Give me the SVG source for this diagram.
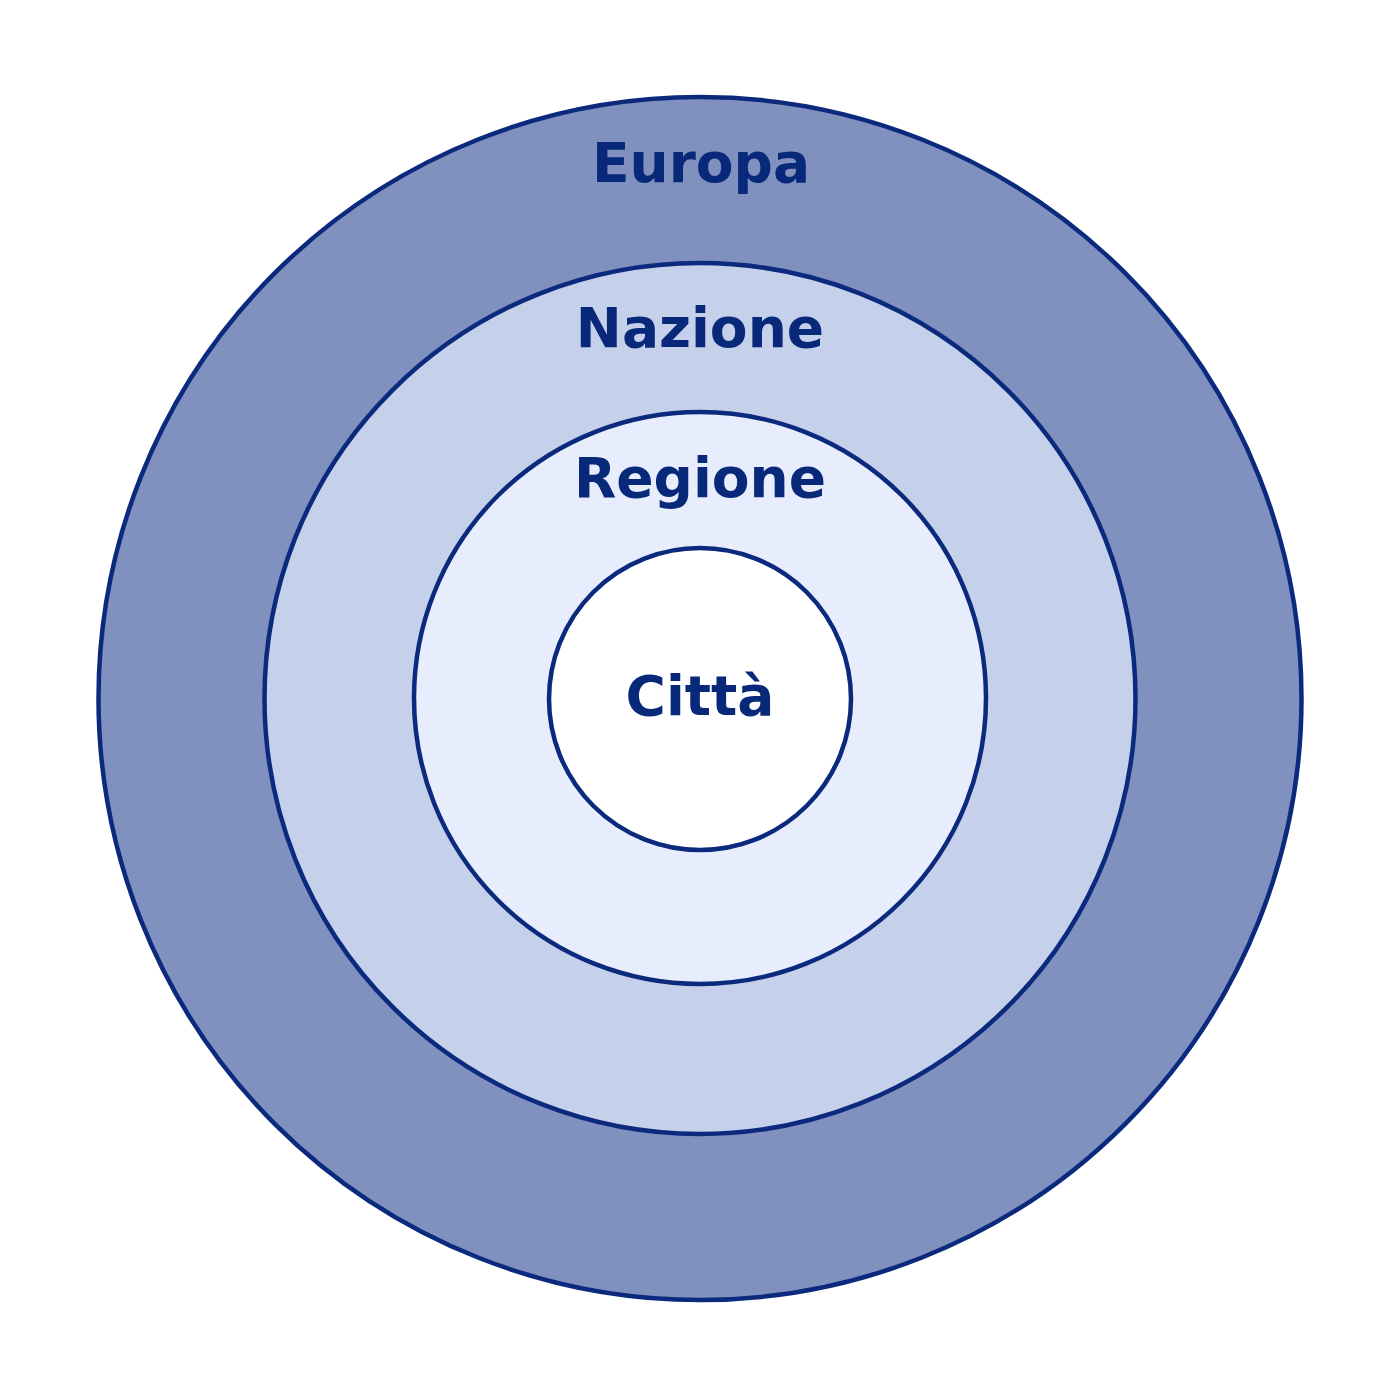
<svg xmlns="http://www.w3.org/2000/svg" width="1400" height="1400" viewBox="0 0 1400 1400">
<style>
.ring{stroke:#0b2a7d;stroke-width:4.5}
.lbl{font-family:"DejaVu Sans",sans-serif;font-weight:bold;font-size:55px;fill:#08287a;text-anchor:middle}
</style>
<rect width="1400" height="1400" fill="#ffffff"/>
<g id="europa">
<circle class="ring" cx="700" cy="698.5" r="601.5" fill="#8090bf"/>
<text class="lbl" x="701" y="182">Europa</text>
</g>
<g id="nazione">
<circle class="ring" cx="700" cy="698.5" r="435.5" fill="#c5d0ea"/>
<text class="lbl" x="700" y="347">Nazione</text>
</g>
<g id="regione">
<circle class="ring" cx="700" cy="698" r="286" fill="#e7edfc"/>
<text class="lbl" x="700" y="497">Regione</text>
</g>
<g id="citta">
<circle class="ring" cx="700" cy="699" r="151" fill="#ffffff"/>
<text class="lbl" x="700" y="715">Città</text>
</g>
<g id="connectors"/>
</svg>
